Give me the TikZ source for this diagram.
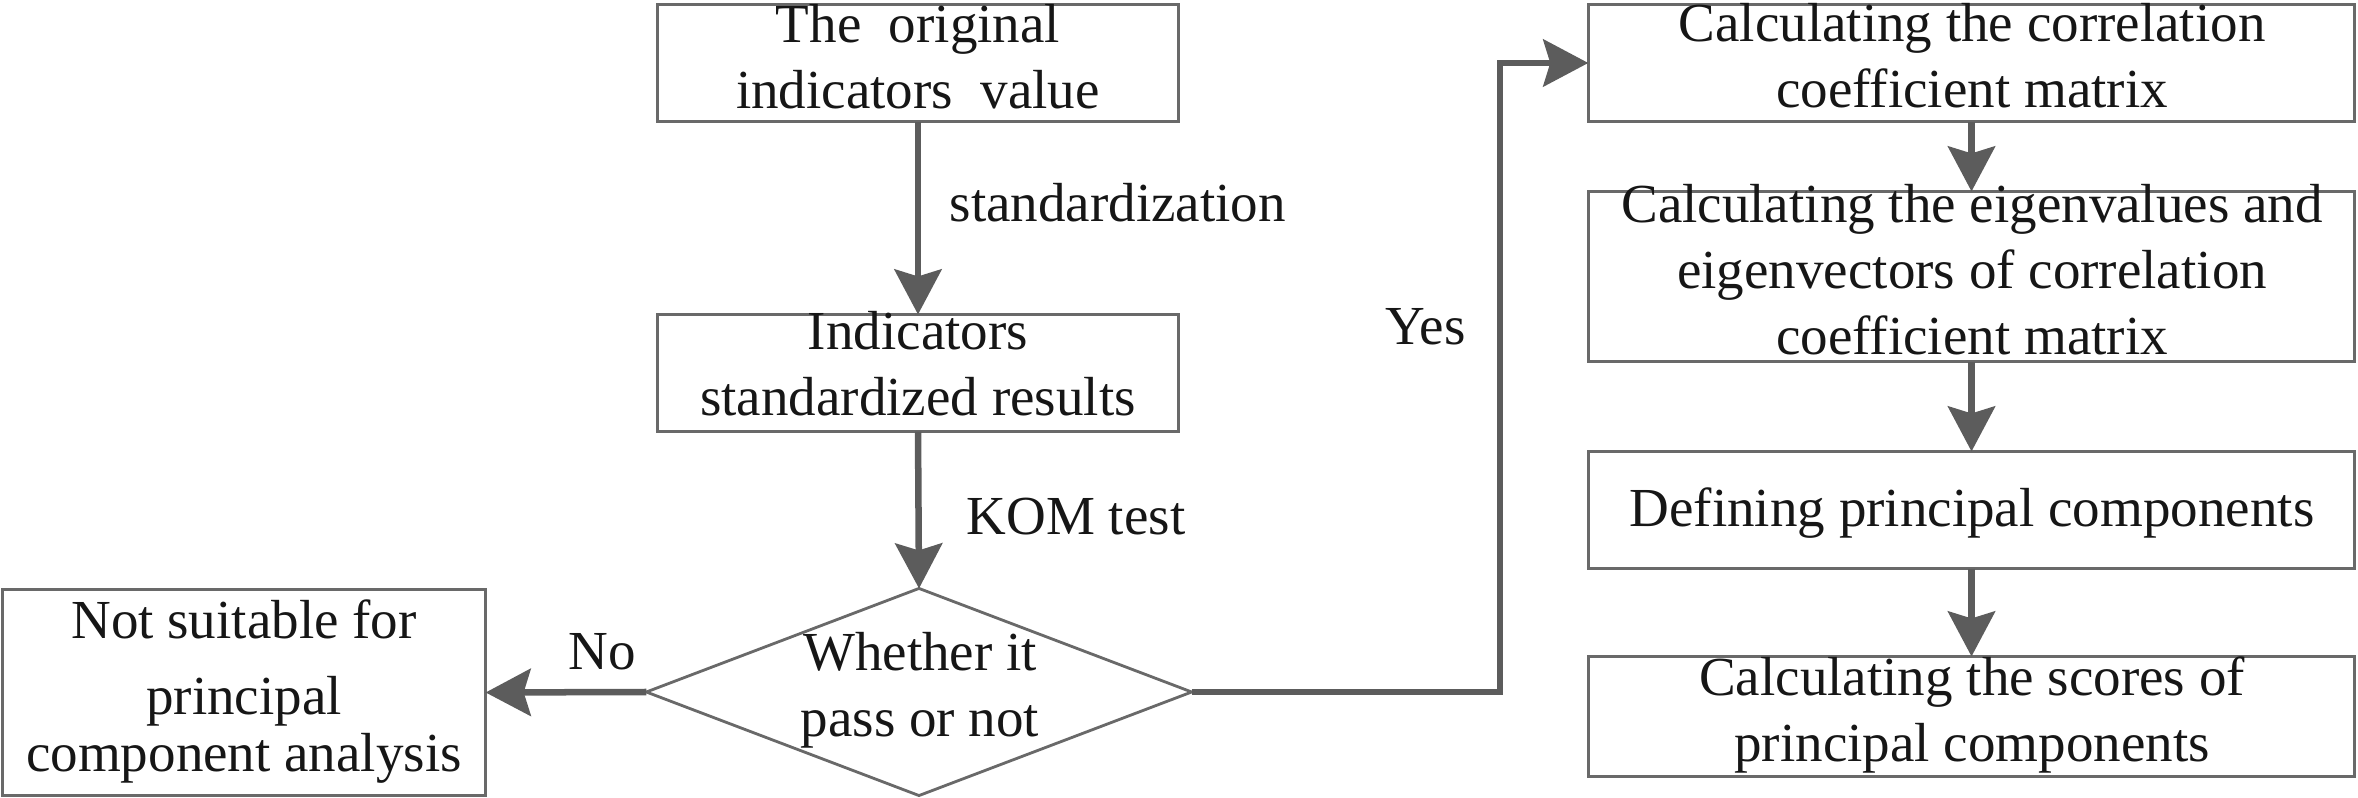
\documentclass[tikz,border=0pt]{standalone}
\usepackage{fontspec}
\setmainfont{Liberation Serif}
\usetikzlibrary{arrows.meta,shapes.geometric}
\definecolor{boxgray}{RGB}{105,105,105}
\definecolor{arrgray}{RGB}{92,92,92}
\definecolor{txtcol}{RGB}{22,22,22}
\tikzset{
  box/.style={draw=boxgray, line width=0.9pt, inner sep=0pt, outer sep=0pt, rectangle},
  dia/.style={draw=boxgray, line width=0.8pt, inner sep=0pt, outer sep=0pt, diamond},
  txt/.style={align=center, inner sep=0pt, text=txtcol,
    font=\fontsize{15.65pt}{18.78pt}\selectfont,
    execute at begin node=\strut, execute at end node=\strut},
  lbl/.style={anchor=base west, inner sep=0pt, text=txtcol,
    font=\fontsize{15.65pt}{18.78pt}\selectfont},
  arr/.style={draw=arrgray, line width=1.85pt,
    -{Stealth[length=0.45cm,width=0.47cm,inset=0.07cm]}}
}
\begin{document}
\begin{tikzpicture}[x=0.01cm,y=-0.01cm]
\useasboundingbox (0,0) rectangle (2358,798);
% shapes
\node[box, minimum width=5.21cm, minimum height=1.17cm] (orig) at (918,63) {};
\node[box, minimum width=5.21cm, minimum height=1.17cm] (std) at (918,373) {};
\node[dia, minimum width=5.45cm, minimum height=2.07cm] (test) at (919,692) {};
\node[box, minimum width=4.83cm, minimum height=2.06cm] (nope) at (244,692.5) {};
\node[box, minimum width=7.66cm, minimum height=1.17cm] (corr) at (1971.5,63) {};
\node[box, minimum width=7.66cm, minimum height=1.70cm] (eig) at (1971.5,276.5) {};
\node[box, minimum width=7.66cm, minimum height=1.17cm] (pc) at (1971.5,510) {};
\node[box, minimum width=7.66cm, minimum height=1.20cm] (score) at (1971.5,716.5) {};
% texts
\node[txt] (origt) at (918,66.3) {The~~original\\indicators~~value};
\node[txt] (stdt) at (918,373.3) {Indicators\\standardized results};
\node[txt] (testt) at (920,694.3) {Whether it\\pass or not};
\node[txt] (nopet) at (244,695.3) {Not suitable for\\[0.1cm]principal\\[-0.09cm]component analysis};
\node[txt] (corrt) at (1972,65.3) {Calculating the correlation\\coefficient matrix};
\node[txt] (eigt) at (1972,279.3) {Calculating the eigenvalues and\\eigenvectors of correlation\\coefficient matrix};
\node[txt] (pct) at (1972,512.8) {Defining principal components};
\node[txt] (scoret) at (1972,719.3) {Calculating the scores of\\principal components};
% labels
\node[lbl] (l1) at (949,222) {standardization};
\node[lbl] (l2) at (966,535) {KOM test};
\node[lbl] (l3) at (1385,345) {Yes};
\node[lbl] (l4) at (568,670) {No};
% connectors
\coordinate (bend) at (1500,63);
\draw[arr] (orig.south) -- (std.north);
\draw[arr] (std.south) -- (test.north);
\draw[arr] (test.west) -- (nope.east);
\draw[arr] (test.east) -| (bend) -- (corr.west);
\draw[arr] (corr.south) -- (eig.north);
\draw[arr] (eig.south) -- (pc.north);
\draw[arr] (pc.south) -- (score.north);
\end{tikzpicture}
\end{document}
